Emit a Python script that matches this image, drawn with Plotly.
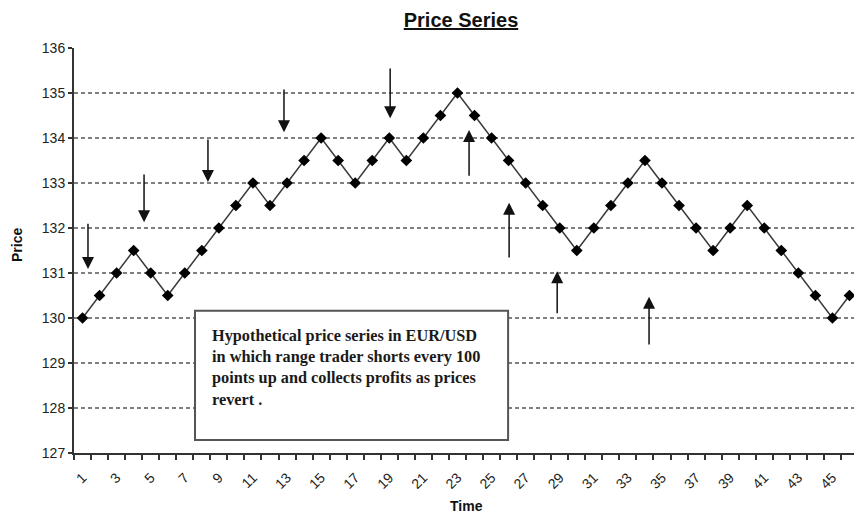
import plotly.graph_objects as go

# ---- data ----
time = list(range(1, 47))
price = [130, 130.5, 131, 131.5, 131, 130.5, 131, 131.5, 132, 132.5,
         133, 132.5, 133, 133.5, 134, 133.5, 133, 133.5, 134, 133.5,
         134, 134.5, 135, 134.5, 134, 133.5, 133, 132.5, 132, 131.5,
         132, 132.5, 133, 133.5, 133, 132.5, 132, 131.5, 132, 132.5,
         132, 131.5, 131, 130.5, 130, 130.5]
x_tick_labels = list(range(1, 46, 2))
y_ticks = list(range(127, 137))
grid_levels = list(range(128, 136))

# short-entry arrows (down): x, tail y, tip y
short_x = [1.32, 4.61, 8.36, 12.82, 19.05]
short_tail = [132.13, 133.22, 134.0, 135.11, 135.58]
short_tip = [131.09, 132.13, 133.02, 134.13, 134.44]
# profit-taking arrows (up)
cover_x = [23.68, 26.03, 28.85, 34.24]
cover_tail = [133.13, 131.31, 130.07, 129.38]
cover_tip = [134.18, 132.56, 131.04, 130.47]

note = ("Hypothetical price series in EUR/USD<br>"
        "in which range trader shorts every 100<br>"
        "points up and collects profits as prices<br>"
        "revert .")

# page body has an 8px margin: figure is sized to fill the rest of the window
OFF = 8
W, H = 862 - OFF, 516 - OFF

fig = go.Figure()
fig.add_trace(go.Scatter(
    x=time, y=price, mode="lines+markers",
    line=dict(color="#3a3a3a", width=1.5),
    marker=dict(symbol="diamond", size=9, color="#000000"),
    showlegend=False, hoverinfo="x+y"))

shapes = []
for g in grid_levels:
    shapes.append(dict(type="line", xref="paper", x0=0, x1=1, yref="y", y0=g, y1=g,
                       line=dict(color="#000000", width=1.2, dash="4px,3px"), layer="below"))
# text box
shapes.append(dict(type="rect", xref="x", yref="y", x0=7.6, x1=25.97, y0=127.29, y1=130.16,
                   line=dict(color="#555555", width=2), fillcolor="white", layer="above"))

annotations = []
for xv, t0, t1 in list(zip(short_x, short_tail, short_tip)) + list(zip(cover_x, cover_tail, cover_tip)):
    annotations.append(dict(x=xv, y=t1, ax=xv, ay=t0, xref="x", yref="y", axref="x", ayref="y",
                            text="", showarrow=True, arrowhead=2, arrowsize=1.6, arrowwidth=1.5,
                            arrowcolor="#111111"))
annotations.append(dict(x=8.48, y=129.87, xref="x", yref="y", xanchor="left", yanchor="top",
                        text=note, showarrow=False, align="left",
                        font=dict(family="Liberation Serif, Times New Roman, serif", size=16.3,
                                  color="#1a1a1a", weight="bold")))
annotations.append(dict(x=(17 - 74) / 784, y=0.5136, xref="paper", yref="paper", text="Price",
                        textangle=-90, showarrow=False, xanchor="center", yanchor="middle",
                        font=dict(family="Liberation Sans, Arial", size=14, color="#111111", weight="bold")))
annotations.append(dict(x=0.5, y=(453 - 506) / 405, xref="paper", yref="paper", text="Time",
                        showarrow=False, xanchor="center", yanchor="middle",
                        font=dict(family="Liberation Sans, Arial", size=14, color="#111111", weight="bold")))

fig.update_layout(
    width=W, height=H,
    margin=dict(l=74 - OFF, r=4, t=48 - OFF, b=63),
    paper_bgcolor="white", plot_bgcolor="white",
    title=dict(text="Price Series", x=(461 - OFF) / W, xanchor="center", y=1 - (20 - OFF) / H,
               yanchor="middle",
               font=dict(family="Liberation Sans, Arial", size=20, color="#111111", weight="bold",
                         lineposition="under")),
    shapes=shapes, annotations=annotations,
    xaxis=dict(range=[0.5, 46.5], tickmode="array", tickvals=x_tick_labels,
               ticktext=[str(v) for v in x_tick_labels], tickangle=-45,
               ticks="outside", ticklen=9, tickcolor="rgba(0,0,0,0)",
               minor=dict(tick0=0.5, dtick=1, ticks="outside", ticklen=5, tickcolor="#333333",
                          tickwidth=1.5, showgrid=False),
               showgrid=False, zeroline=False, showline=True, linecolor="#333333", linewidth=2,
               tickfont=dict(family="Liberation Sans, Arial", size=14, color="#222222")),
    yaxis=dict(range=[127, 136], tickmode="array", tickvals=y_ticks,
               ticks="outside", ticklen=4, tickcolor="#333333", tickwidth=1.5,
               showgrid=False, zeroline=False, showline=True, linecolor="#333333", linewidth=2,
               tickfont=dict(family="Liberation Sans, Arial", size=14, color="#222222")),
)

fig.write_html("out.html")
